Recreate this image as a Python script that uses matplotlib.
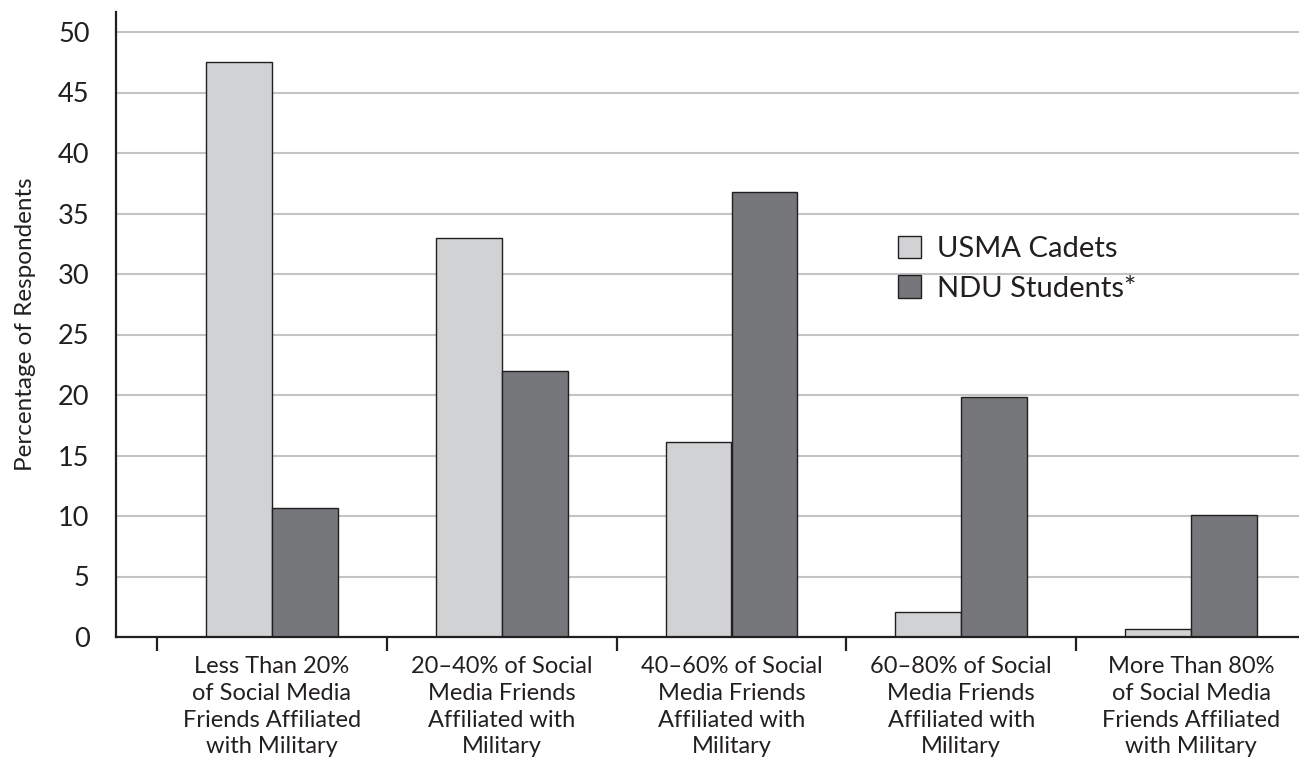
import matplotlib
matplotlib.use("Agg")
import matplotlib.pyplot as plt
import numpy as np

categories = [
    "Less Than 20%\nof Social Media\nFriends Affiliated\nwith Military",
    "20–40% of Social\nMedia Friends\nAffiliated with\nMilitary",
    "40–60% of Social\nMedia Friends\nAffiliated with\nMilitary",
    "60–80% of Social\nMedia Friends\nAffiliated with\nMilitary",
    "More Than 80%\nof Social Media\nFriends Affiliated\nwith Military",
]
series_names = ["USMA Cadets", "NDU Students*"]
usma = [47.5, 33.0, 16.1, 2.1, 0.65]
ndu = [10.7, 22.0, 36.75, 19.8, 10.1]
ylabels = [0, 5, 10, 15, 20, 25, 30, 35, 40, 45, 50]
ymarks = [0, 10, 20, 30, 40, 50]

TXT = "#231f20"
plt.rcParams["font.family"] = ["Lato", "DejaVu Sans"]
plt.rcParams["text.color"] = TXT

fig = plt.figure(figsize=(12.99, 7.66), dpi=100)
ax = fig.add_axes([116/1299, 1-637/766, 1-116/1299, (637-12)/766])

x = np.arange(len(categories))
w = 0.287
b1 = ax.bar(x - w/2, usma, w, color="#d1d2d4", edgecolor=TXT, linewidth=1.0,
            label=series_names[0], zorder=3)
b2 = ax.bar(x + w/2, ndu, w, color="#76777b", edgecolor=TXT, linewidth=1.0,
            label=series_names[1], zorder=3)

ax.set_xlim((116-272)/229.75, (1299-272)/229.75)
ax.set_ylim(0, (637-12)/12.1)

# grid every 5
for g in ylabels[1:]:
    ax.axhline(g, color="#c4c4c4", linewidth=1.5, zorder=1)

ax.set_yticks(ylabels)
ax.tick_params(axis="y", which="major", length=0, pad=19,
               labelsize=19.5, labelcolor=TXT)
ax.set_yticks(ymarks, minor=True)
ax.tick_params(axis="y", which="minor", length=10, width=1.6, color=TXT)

ax.set_xticks(x)
ax.set_xticklabels(categories, fontsize=17, linespacing=1.33)
ax.tick_params(axis="x", which="major", length=0, pad=14, labelcolor=TXT)
ax.set_xticks(np.arange(-0.5, 4.0, 1.0), minor=True)
ax.tick_params(axis="x", which="minor", length=10, width=1.6, color=TXT)

for s in ["top", "right"]:
    ax.spines[s].set_visible(False)
for s in ["left", "bottom"]:
    ax.spines[s].set_color(TXT)
    ax.spines[s].set_linewidth(1.6)
    ax.spines[s].set_zorder(4)

ax.set_ylabel("Percentage of Respondents", fontsize=17.5, color=TXT, labelpad=16)

leg = fig.legend(handles=[b1, b2], labels=series_names, loc="upper left",
                 bbox_to_anchor=(898/1299, 1-236/766), frameon=False,
                 fontsize=21, handlelength=0.8, handleheight=0.8,
                 handletextpad=0.55, labelspacing=0.45, borderpad=0,
                 borderaxespad=0)

fig.savefig("out.png", dpi=100)
